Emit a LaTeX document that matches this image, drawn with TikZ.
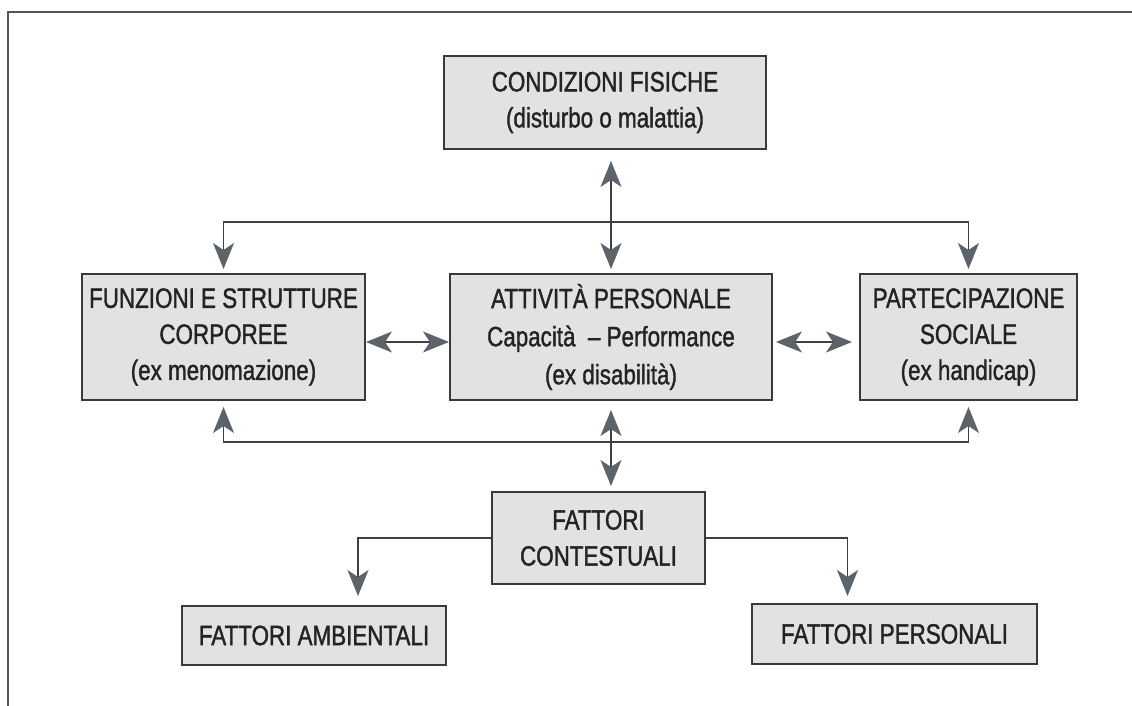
\documentclass[tikz,border=0pt]{standalone}
\usepackage{fontspec}
\setmainfont{Liberation Sans}[FakeStretch=0.8,FakeBold=1.3]
\usetikzlibrary{arrows.meta}
\definecolor{boxfill}{HTML}{E1E2E3}
\definecolor{boxline}{HTML}{3A3A3A}
\definecolor{tipgrey}{HTML}{5C636A}
\definecolor{linegrey}{HTML}{404040}
\definecolor{textdark}{HTML}{232323}
\definecolor{framegrey}{HTML}{555555}
\tikzset{
  icfbox/.style={draw=boxline, fill=boxfill, line width=1pt, align=center,
    text=textdark, inner sep=2pt,
    font=\fontsize{14}{18}\selectfont},
}
\begin{document}
\begin{tikzpicture}[x=0.5pt,y=-0.5pt,
    >={Stealth[length=13pt,width=10.5pt,inset=3.5pt,color=tipgrey]}]
      \useasboundingbox (0,0) rectangle (1132,706);
      \draw[framegrey, line width=1pt] (1132,12.5) -- (8,12.5) -- (8,706);
      \draw
        (605,102.5) node[icfbox, minimum width=161pt, minimum height=46.5pt] (cond)
          {CONDIZIONI FISICHE\\(disturbo o malattia)}
        (223.5,337) node[icfbox, minimum width=141.5pt, minimum height=63pt] (fun)
          {FUNZIONI E STRUTTURE\\CORPOREE\\(ex menomazione)}
        (611,337) node[icfbox, minimum width=161pt, minimum height=63pt,
          font=\fontsize{14}{19}\selectfont] (att)
          {ATTIVITÀ PERSONALE\\Capacità~~– Performance\\(ex disabilità)}
        (968.5,337) node[icfbox, minimum width=108.5pt, minimum height=63pt] (par)
          {PARTECIPAZIONE\\SOCIALE\\(ex handicap)}
        (598.5,538) node[icfbox, minimum width=106.5pt, minimum height=46pt] (ctx)
          {FATTORI\\CONTESTUALI}
        (314,635.5) node[icfbox, minimum width=132pt, minimum height=29.5pt] (amb)
          {FATTORI AMBIENTALI}
        (894.5,634) node[icfbox, minimum width=142.5pt, minimum height=30pt] (pers)
          {FATTORI PERSONALI};
      \coordinate (topbar) at (611,222);
      \coordinate (botbar) at (611,442);
      \begin{scope}[draw=linegrey, line width=0.8pt]
        \draw[->, shorten >=2pt] (topbar) -| (fun.north);
        \draw[->, shorten >=2pt] (topbar) -| (par.north);
        \draw[->, shorten >=3pt] (botbar) -| (fun.south);
        \draw[->, shorten >=3pt] (botbar) -| (par.south);
        \draw[<->, shorten <=2pt, shorten >=5.5pt] (att.north) -- (att.north |- cond.south);
        \draw[<->, shorten <=4.5pt, shorten >=2.5pt] (att.south) -- (att.south |- ctx.north);
        \draw[<->] ([yshift=-2.5pt]fun.east) -- ([yshift=-2.5pt]att.west);
        \draw[<->, shorten <=1.5pt, shorten >=3.5pt] ([yshift=-2.5pt]att.east) -- ([yshift=-2.5pt]par.west);
        \draw[->, shorten >=4.5pt] (ctx.west) -| ([xshift=22pt]amb.north);
        \draw[->, shorten >=3.5pt] (ctx.east) -| ([xshift=-23.5pt]pers.north);
      \end{scope}
    \end{tikzpicture}
\end{document}
